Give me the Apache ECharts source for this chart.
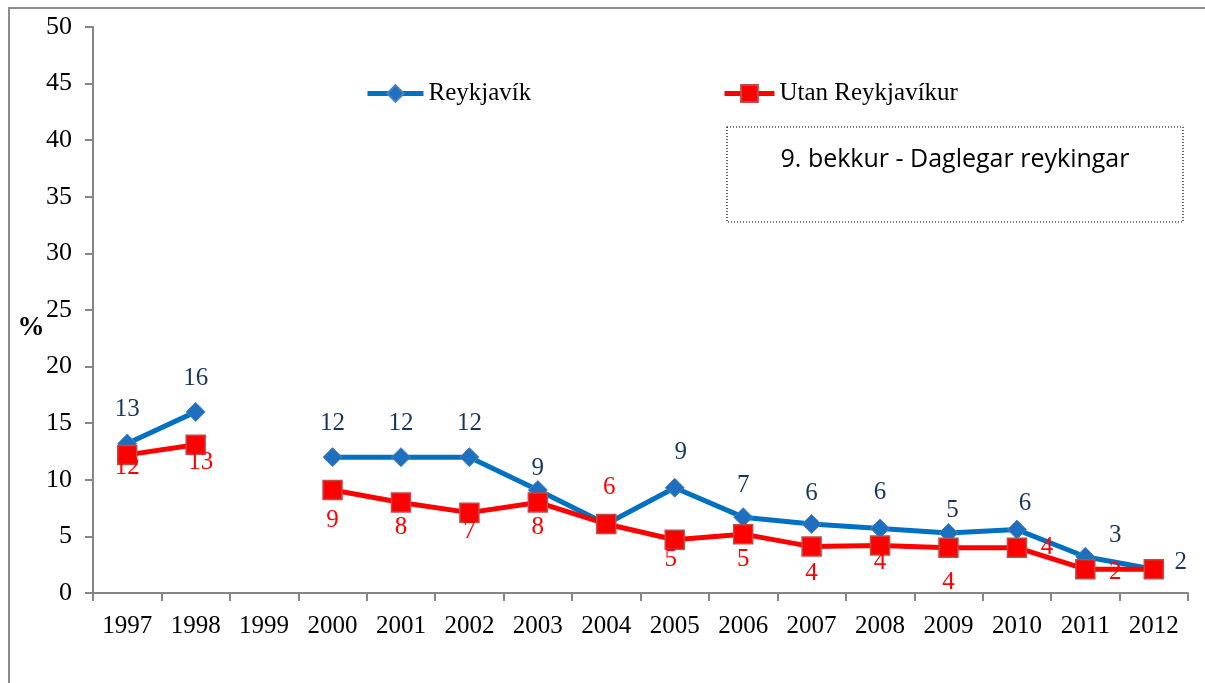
<!DOCTYPE html>
<html>
<head>
<meta charset="utf-8">
<script src="https://cdn.jsdelivr.net/npm/echarts@6/dist/echarts.min.js"></script>
<style>
  html, body { margin: 0; padding: 0; background: #fff; }
  #chart { width: 1205px; height: 683px; }
</style>
</head>
<body>
<div id="chart"></div>
<script>
const years = ['1997', '1998', '1999', '2000', '2001', '2002', '2003', '2004',
  '2005', '2006', '2007', '2008', '2009', '2010', '2011', '2012']
const reykjavik = [13.2, 16.0, null, 12.0, 12.0, 12.0, 9.1, 6.1, 9.3, 6.7, 6.1, 5.7, 5.3, 5.6, 3.2, 2.1]
const utan = [12.2, 13.1, null, 9.1, 8.0, 7.1, 8.0, 6.1, 4.7, 5.2, 4.1, 4.2, 4.0, 4.0, 2.1, 2.1]
const yTicks = [0, 5, 10, 15, 20, 25, 30, 35, 40, 45, 50]

// label offsets from the point centre (null = hidden)
const rOffset = [[0, -34], [0, -33], null, [0, -34], [0, -34], [0, -34], [0, -22], null,
  [6, -35], [0, -32], [0, -31], [0, -36], [4, -23], [8, -26], [30, -21], [27, -7]]
const uOffset = [[0, 13], [5, 18], null, [0, 30], [0, 25], [0, 19], [0, 25], [3, -37],
  [-4, 20], [0, 25], [0, 27], [0, 17], [0, 35], [30, 0], [30, 3], null]

const serif = '"Liberation Serif", "DejaVu Serif", serif'

const makeData = (vals, offs) => vals.map((v, i) => ({
  value: v === null ? '-' : v,
  label: offs[i] ? { show: true, offset: offs[i] } : { show: false }
}))

const chart = echarts.init(document.getElementById('chart'))

const option = {
  animation: false,
  backgroundColor: '#fff',
  textStyle: { fontFamily: serif },
  grid: { left: 93, right: 17, top: 27, bottom: 90 },
  legend: [
    {
      data: ['Reykjavík'],
      left: 365, top: 81, padding: 0,
      itemWidth: 56, itemHeight: 21, itemGap: 5,
      lineStyle: { width: 5 },
      textStyle: { fontFamily: serif, fontSize: 25, color: '#000' }
    },
    {
      data: ['Utan Reykjavíkur'],
      left: 722, top: 81, padding: 0,
      itemWidth: 50, itemHeight: 21, itemGap: 5,
      lineStyle: { width: 5 },
      textStyle: { fontFamily: serif, fontSize: 25, color: '#000' }
    }
  ],
  xAxis: {
    type: 'category',
    data: years,
    boundaryGap: true,
    axisLine: { lineStyle: { color: '#868686', width: 2 } },
    axisTick: { show: true, length: 8, interval: 0, lineStyle: { color: '#868686', width: 2 } },
    axisLabel: { interval: 0, margin: 21, fontFamily: serif, fontSize: 25, color: '#000' },
    splitLine: { show: false }
  },
  yAxis: {
    type: 'value',
    min: yTicks[0],
    max: yTicks[yTicks.length - 1],
    interval: 5,
    axisLine: { show: true, lineStyle: { color: '#868686', width: 2 } },
    axisTick: { show: true, length: 8, lineStyle: { color: '#868686', width: 2 } },
    axisLabel: { margin: 21, fontFamily: serif, fontSize: 26, color: '#000' },
    splitLine: { show: false }
  },
  series: [
    {
      name: 'Reykjavík',
      type: 'line',
      data: makeData(reykjavik, rOffset),
      connectNulls: false,
      symbol: 'diamond',
      symbolSize: 19,
      lineStyle: { color: '#0070C0', width: 5 },
      itemStyle: { color: '#1F6FC0', borderColor: '#4F81BD', borderWidth: 1 },
      label: {
        position: 'inside',
        formatter: p => Math.round(p.value),
        fontFamily: serif, fontSize: 25, color: '#17365D'
      },
      z: 2
    },
    {
      name: 'Utan Reykjavíkur',
      type: 'line',
      data: makeData(utan, uOffset),
      connectNulls: false,
      symbol: 'rect',
      symbolSize: 19,
      lineStyle: { color: '#FF0000', width: 5 },
      itemStyle: { color: '#FF0000', borderColor: '#BE4B48', borderWidth: 1.5 },
      label: {
        position: 'inside',
        formatter: p => Math.round(p.value),
        fontFamily: serif, fontSize: 25, color: '#FF0000'
      },
      z: 3
    }
  ],
  graphic: [
    {
      type: 'rect',
      shape: { x: 9, y: 8, width: 1300, height: 800 },
      style: { fill: 'none', stroke: '#8c8c8c', lineWidth: 2 },
      silent: true
    },
    {
      type: 'rect',
      shape: { x: 727, y: 127, width: 456, height: 95 },
      style: { fill: 'none', stroke: '#000', lineWidth: 1.2, lineDash: [1, 2] },
      silent: true
    },
    {
      type: 'text',
      x: 955, y: 160,
      style: {
        text: '9. bekkur - Daglegar reykingar',
        font: '25px "Open Sans", "Noto Sans", sans-serif',
        fill: '#000', align: 'center', verticalAlign: 'middle'
      },
      silent: true
    },
    {
      type: 'text',
      x: 31, y: 328,
      style: {
        text: '%',
        font: 'bold 27px "Liberation Serif", serif',
        fill: '#000', align: 'center', verticalAlign: 'middle'
      },
      silent: true
    }
  ]
}

chart.setOption(option)
window.addEventListener('resize', () => chart.resize())
</script>
</body>
</html>
